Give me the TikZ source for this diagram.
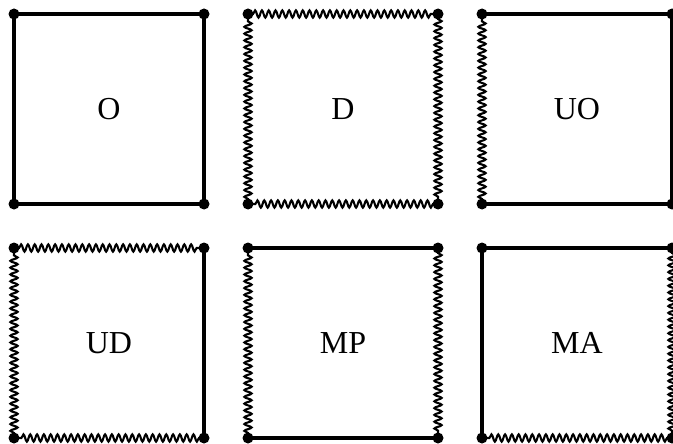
\documentclass[tikz,border=0pt]{standalone}
\usepackage{fontspec}
\setmainfont{Liberation Serif}
\usetikzlibrary{decorations.pathmorphing}
\tikzset{
  plainedge/.style={line width=4.5pt},
  wavyedge/.style={line width=2.1pt, decorate,
    decoration={snake, segment length=6.8pt, amplitude=3.6pt, pre length=5pt, post length=5pt}},
  cornerdot/.style={circle, fill=black, inner sep=0pt, minimum size=11pt},
  sqlabel/.style={font=\fontsize{32}{32}\selectfont}
}
\newcommand{\mysquare}[7]{%
  % #1 name, #2 x, #3 y, #4 top, #5 right, #6 bottom, #7 left
  \coordinate (#1tl) at (#2,#3);
  \coordinate (#1tr) at ({#2+190},#3);
  \coordinate (#1br) at ({#2+190},{#3+190});
  \coordinate (#1bl) at (#2,{#3+190});
  \draw[#4] (#1tl) -- (#1tr);
  \draw[#5] (#1tr) -- (#1br);
  \draw[#6] (#1br) -- (#1bl);
  \draw[#7] (#1bl) -- (#1tl);
  \node[cornerdot] (#1dtl) at (#1tl) {};
  \node[cornerdot] (#1dtr) at (#1tr) {};
  \node[cornerdot] (#1dbr) at (#1br) {};
  \node[cornerdot] (#1dbl) at (#1bl) {};
}
\begin{document}
\begin{tikzpicture}[x=1pt,y=-1pt]
\useasboundingbox (0,0) rectangle (673,444);
\begin{scope}
\clip (0,0) rectangle (673,444);
\mysquare{o}{14}{14}{plainedge}{plainedge}{plainedge}{plainedge}
\node[sqlabel] (lo) at (109,109) {O};
\mysquare{d}{248}{14}{wavyedge}{wavyedge}{wavyedge}{wavyedge}
\node[sqlabel] (ld) at (343,109) {D};
\mysquare{uo}{482}{14}{plainedge}{plainedge}{plainedge}{wavyedge}
\node[sqlabel] (luo) at (577,109) {UO};
\mysquare{ud}{14}{248}{wavyedge}{plainedge}{wavyedge}{wavyedge}
\node[sqlabel] (lud) at (109,343) {UD};
\mysquare{mp}{248}{248}{plainedge}{wavyedge}{plainedge}{wavyedge}
\node[sqlabel] (lmp) at (343,343) {MP};
\mysquare{ma}{482}{248}{plainedge}{wavyedge}{wavyedge}{plainedge}
\node[sqlabel] (lma) at (577,343) {MA};
\end{scope}
\end{tikzpicture}
\end{document}
